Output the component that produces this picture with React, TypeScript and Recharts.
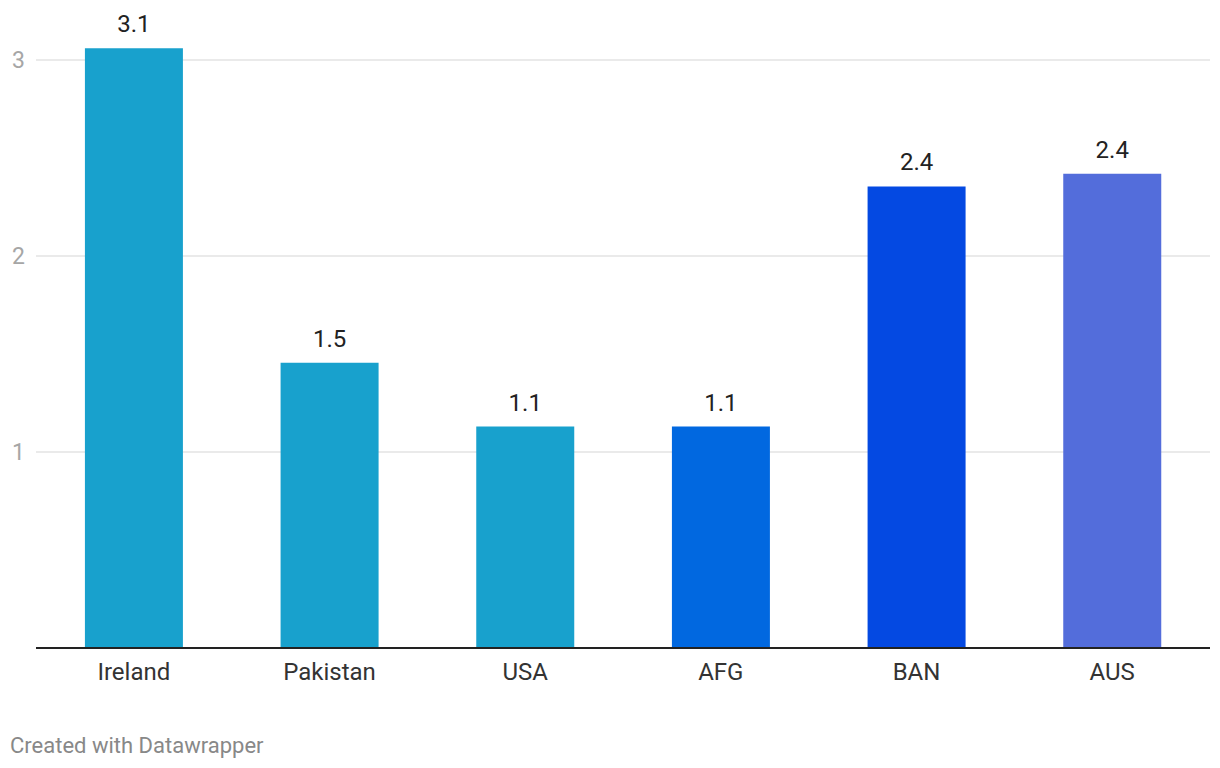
import React from "react"
import { BarChart, Bar, XAxis, YAxis, CartesianGrid, Cell, LabelList } from "recharts"

const teams = ["Ireland", "Pakistan", "USA", "AFG", "BAN", "AUS"]
const values = [3.06, 1.455, 1.13, 1.13, 2.355, 2.42]
const barColors = ["#18a1cd", "#18a1cd", "#18a1cd", "#0168e0", "#0449e2", "#536ddb"]
const yTicks = [1, 2, 3]

const data = teams.map((team, i) => ({ team, value: values[i] }))

const FONT = "Roboto, 'Noto Sans', sans-serif"

// eslint-disable-next-line @typescript-eslint/no-explicit-any
function YTick({ y, payload }: any) {
  return (
    <text x={12} y={y} dy={8} fill="#a6a6a6" fontSize={23} fontFamily={FONT} textAnchor="start">
      {payload.value}
    </text>
  )
}

// eslint-disable-next-line @typescript-eslint/no-explicit-any
function XTick({ x, y, payload }: any) {
  return (
    <text x={x} y={y + 24} fill="#333" fontSize={24} fontFamily={FONT} textAnchor="middle">
      {payload.value}
    </text>
  )
}

// eslint-disable-next-line @typescript-eslint/no-explicit-any
function ValueLabel({ x, y, width, value }: any) {
  return (
    <text x={x + width / 2} y={y - 16} fill="#222" fontSize={24} fontFamily={FONT} textAnchor="middle">
      {Number(value).toFixed(1)}
    </text>
  )
}

export default function App() {
  return (
    <div style={{ position: "absolute", left: 0, top: 0, width: 1220, height: 768, background: "#fff" }}>
      <BarChart
        width={1220}
        height={700}
        data={data}
        margin={{ top: 1.2, right: 10, left: 0, bottom: 0 }}
        barCategoryGap="25%"
      >
        <CartesianGrid vertical={false} horizontalValues={yTicks} stroke="#e3e3e3" strokeWidth={1.5} />
        <YAxis
          type="number"
          domain={[0, 3.3]}
          ticks={yTicks}
          width={36}
          axisLine={false}
          tickLine={false}
          tick={<YTick />}
        />
        <XAxis
          dataKey="team"
          height={52}
          tickLine={false}
          axisLine={{ stroke: "#222", strokeWidth: 2 }}
          tick={<XTick />}
          interval={0}
        />
        <Bar dataKey="value" isAnimationActive={false}>
          {data.map((d, i) => (
            <Cell key={d.team} fill={barColors[i]} />
          ))}
          <LabelList dataKey="value" content={<ValueLabel />} />
        </Bar>
      </BarChart>
      <div
        style={{
          position: "absolute",
          left: 10,
          top: 733,
          fontFamily: FONT,
          fontSize: 22,
          color: "#888",
          lineHeight: "26px",
        }}
      >
        Created with Datawrapper
      </div>
    </div>
  )
}
